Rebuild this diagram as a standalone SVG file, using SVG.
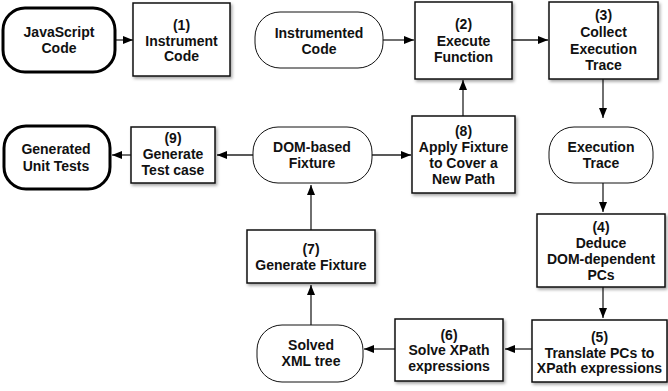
<svg xmlns="http://www.w3.org/2000/svg" width="668" height="391" viewBox="0 0 668 391">
<defs>
<filter id="sh" x="-10%" y="-10%" width="130%" height="130%">
<feDropShadow dx="1.5" dy="2" stdDeviation="1.5" flood-color="#000" flood-opacity="0.35"/>
</filter>
<marker id="ah" viewBox="0 0 10 8" refX="10" refY="4" markerWidth="10" markerHeight="8" markerUnits="userSpaceOnUse" orient="auto">
<path d="M0,0 L10,4 L0,8 Z" fill="#000"/>
</marker>
<style>
.box{fill:#fff;stroke:#111;stroke-width:1.5;filter:url(#sh)}
.term{fill:#fff;stroke:#000;stroke-width:3}
.data{fill:#fff;stroke:#111;stroke-width:1}
.c{fill:none;stroke:#222;stroke-width:1.3;marker-end:url(#ah)}
text{font-family:"Liberation Sans",Arial,Helvetica,sans-serif;font-weight:bold;font-size:14px;fill:#111;text-anchor:middle}
</style>
</defs>
<g id="connectors">
<line class="c" x1="115" y1="40" x2="133" y2="40"/>
<line class="c" x1="383" y1="40" x2="414" y2="40"/>
<line class="c" x1="512" y1="40" x2="548" y2="40"/>
<line class="c" x1="603" y1="79" x2="603" y2="118"/>
<line class="c" x1="603" y1="183" x2="603" y2="212"/>
<line class="c" x1="603" y1="287" x2="603" y2="318"/>
<line class="c" x1="532" y1="349" x2="505" y2="349"/>
<line class="c" x1="395" y1="349" x2="364" y2="349"/>
<line class="c" x1="311" y1="325" x2="311" y2="285"/>
<line class="c" x1="311" y1="230" x2="311" y2="185"/>
<line class="c" x1="372" y1="155" x2="411" y2="155"/>
<line class="c" x1="463" y1="116" x2="463" y2="80"/>
<line class="c" x1="253" y1="155" x2="217" y2="155"/>
<line class="c" x1="131" y1="155" x2="112" y2="155"/>
</g>
<g id="js">
<rect class="term" x="3" y="8" width="112" height="64" rx="22"/>
<text x="59" y="37">JavaScript</text><text x="59" y="53">Code</text>
</g>
<g id="n1">
<rect class="box" x="133" y="3" width="97" height="73"/>
<text x="181.5" y="30">(1)</text><text x="181.5" y="45.5">Instrument</text><text x="181.5" y="61">Code</text>
</g>
<g id="instr">
<rect class="data" x="255" y="12" width="128" height="56" rx="25"/>
<text x="319" y="38">Instrumented</text><text x="319" y="53.5">Code</text>
</g>
<g id="n2">
<rect class="box" x="415" y="2" width="97" height="77"/>
<text x="463.5" y="28.5">(2)</text><text x="463.5" y="45.5">Execute</text><text x="463.5" y="62">Function</text>
</g>
<g id="n3">
<rect class="box" x="549" y="2" width="109" height="77"/>
<text x="603.5" y="20">(3)</text><text x="603.5" y="37">Collect</text><text x="603.5" y="53.5">Execution</text><text x="603.5" y="70">Trace</text>
</g>
<g id="trace">
<rect class="data" x="549" y="127" width="104" height="56" rx="25"/>
<text x="601" y="152">Execution</text><text x="601" y="168">Trace</text>
</g>
<g id="n4">
<rect class="box" x="537" y="214" width="128" height="73"/>
<text x="601" y="232">(4)</text><text x="601" y="247.5">Deduce</text><text x="601" y="263.5">DOM-dependent</text><text x="601" y="280">PCs</text>
</g>
<g id="n5">
<rect class="box" x="532" y="320" width="135" height="62"/>
<text x="599.5" y="342">(5)</text><text x="599.5" y="357.5">Translate PCs to</text><text x="599.5" y="373">XPath expressions</text>
</g>
<g id="n6">
<rect class="box" x="395" y="319" width="108" height="62"/>
<text x="449" y="339.5">(6)</text><text x="449" y="355">Solve XPath</text><text x="449" y="371">expressions</text>
</g>
<g id="solved">
<rect class="data" x="257" y="325" width="106" height="57" rx="25"/>
<text x="311" y="350">Solved</text><text x="311" y="366">XML tree</text>
</g>
<g id="n7">
<rect class="box" x="247" y="230" width="128" height="53"/>
<text x="311" y="254">(7)</text><text x="311" y="270">Generate Fixture</text>
</g>
<g id="dom">
<rect class="data" x="253" y="127" width="119" height="56" rx="25"/>
<text x="312" y="152">DOM-based</text><text x="312" y="168">Fixture</text>
</g>
<g id="n8">
<rect class="box" x="412" y="116" width="103" height="77"/>
<text x="463.5" y="136">(8)</text><text x="463.5" y="152">Apply Fixture</text><text x="463.5" y="168">to Cover a</text><text x="463.5" y="184">New Path</text>
</g>
<g id="n9">
<rect class="box" x="131" y="127" width="84" height="56"/>
<text x="173" y="143">(9)</text><text x="173" y="159">Generate</text><text x="173" y="175">Test case</text>
</g>
<g id="tests">
<rect class="term" x="4" y="126" width="106" height="63" rx="22"/>
<text x="56" y="154">Generated</text><text x="56" y="171">Unit Tests</text>
</g>
</svg>
